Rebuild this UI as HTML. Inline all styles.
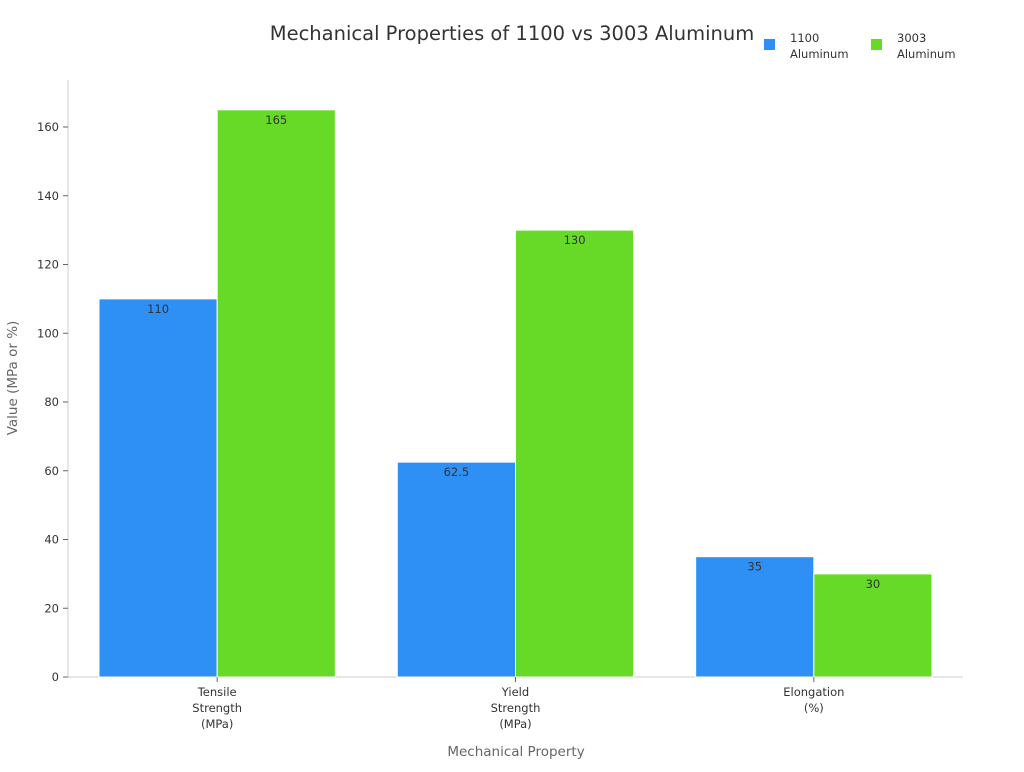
<!DOCTYPE html>
<html><head><meta charset="utf-8"><style>
body{margin:0;background:#fff;font-family:"DejaVu Sans","Liberation Sans",sans-serif}
</style></head><body>
<svg id="chart" width="1024" height="768" xmlns="http://www.w3.org/2000/svg" font-family="DejaVu Sans, Liberation Sans, sans-serif">
<text x="512" y="40" text-anchor="middle" font-size="19.5" fill="#333">Mechanical Properties of 1100 vs 3003 Aluminum</text>
<g>
<rect x="764" y="39" width="11" height="11" fill="#2e8ff5"/>
<text x="790" y="42" font-size="11.5" fill="#333">1100</text>
<text x="790" y="58" font-size="11.5" fill="#333">Aluminum</text>
<rect x="871" y="39" width="11" height="11" fill="#66da26"/>
<text x="897" y="42" font-size="11.5" fill="#333">3003</text>
<text x="897" y="58" font-size="11.5" fill="#333">Aluminum</text>
</g>
<g id="plot"></g>
<text transform="translate(17,378) rotate(-90)" text-anchor="middle" font-size="13.5" fill="#666">Value (MPa or %)</text>
<text x="516" y="756" text-anchor="middle" font-size="13.5" fill="#666">Mechanical Property</text>
</svg>
<script>
const categories=[["Tensile","Strength","(MPa)"],["Yield","Strength","(MPa)"],["Elongation","(%)"]];
const series1100=[110,62.5,35];
const series3003=[165,130,30];
const seriesLabels1100=["110","62.5","35"];
const seriesLabels3003=["165","130","30"];
const yTicks=[0,20,40,60,80,100,120,140,160];
const NS="http://www.w3.org/2000/svg";
const g=document.getElementById('plot');
const x0=68,x1=963,y0=677,pxPer=550/160;
const band=(x1-x0)/categories.length;
function y(v){return y0-v*pxPer;}
function bandX(i){return x0+i*band;}
function mk(t,a){const e=document.createElementNS(NS,t);for(const k in a)e.setAttribute(k,a[k]);g.appendChild(e);return e;}
let e=mk('line',{x1:x0,x2:x0,y1:80,y2:y0,stroke:'#ccc'});


e=mk('line',{x1:x0,x2:x1,y1:y0,y2:y0,stroke:'#ccc'});


yTicks.forEach(t=>{
 let l=mk('line',{x1:x0-5,x2:x0,y1:y(t),y2:y(t),stroke:'#666'});
 
 
 let tx=mk('text',{x:x0-9,y:y(t)+4,'text-anchor':'end','font-size':11.5,fill:'#333'});
 tx.textContent=t;
 
 
});
const pad=31,bw=(band-2*pad)/2;
categories.forEach((c,i)=>{
 const bx=bandX(i)+pad;
 [[series1100,seriesLabels1100,'#2e8ff5','1100'],[series3003,seriesLabels3003,'#66da26','3003']].forEach((s,j)=>{
  const v=s[0][i];
  let r=mk('rect',{x:bx+j*bw,y:y(v),width:bw,height:y0-y(v),fill:s[2],stroke:'#fff','stroke-width':1});
  
  
  let t=mk('text',{x:bx+j*bw+bw/2,y:y(v)+14,'text-anchor':'middle','font-size':11.5,fill:'#333'});
  t.textContent=s[1][i];
  
  
 });
 const cx=bandX(i)+band/2;
 let tk=mk('line',{x1:cx,x2:cx,y1:y0,y2:y0+5,stroke:'#666'});
 
 
 c.forEach((ln,k)=>{
  let t=mk('text',{x:cx,y:y0+19+k*16,'text-anchor':'middle','font-size':11.5,fill:'#333'});
  t.textContent=ln;
  
  
 });
});
</script>
</body></html>
